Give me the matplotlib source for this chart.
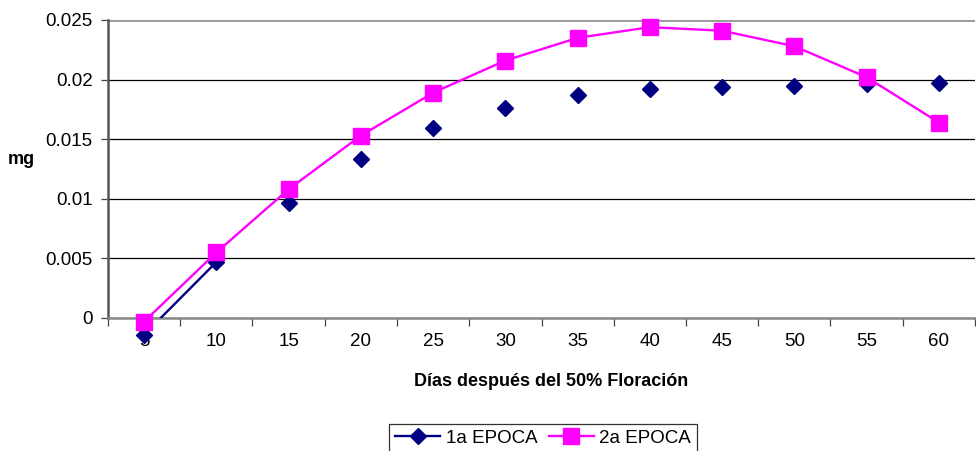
import matplotlib

matplotlib.use("Agg")
import matplotlib.pyplot as plt

plt.rcParams["font.family"] = ["Liberation Sans", "DejaVu Sans"]

# ---- data ------------------------------------------------------------------
dias = [5, 10, 15, 20, 25, 30, 35, 40, 45, 50, 55, 60]
epoca1 = [-0.0014, 0.0047, 0.00965, 0.0133, 0.0159, 0.0176, 0.0187,
          0.0192, 0.0194, 0.0195, 0.0196, 0.0197]
epoca2 = [-0.0003, 0.0055, 0.0108, 0.0153, 0.0189, 0.0216, 0.0235,
          0.0244, 0.0241, 0.0228, 0.0202, 0.0164]
yticks = [0, 0.005, 0.01, 0.015, 0.02, 0.025]
ytick_labels = ["0", "0.005", "0.01", "0.015", "0.02", "0.025"]

NAVY = "#000080"
MAGENTA = "#FF00FF"

fig = plt.figure(figsize=(9.76, 4.51), dpi=100)
ax = fig.add_axes([108 / 976, 1 - 318 / 451, 867 / 976, 298 / 451])

pos = list(range(len(dias)))

# 1a EPOCA: line only between the first two points, markers everywhere
ax.plot(pos[:2], epoca1[:2], color=NAVY, lw=1.7, zorder=3)
ax.plot(pos, epoca1, ls="none", marker="D", ms=8.2, color=NAVY,
        clip_on=False, zorder=4)
# 2a EPOCA
ax.plot(pos, epoca2, color=MAGENTA, lw=1.7, marker="s", ms=11,
        clip_on=False, zorder=5)

ax.set_xlim(-0.5, len(dias) - 0.5)
ax.set_ylim(0, 0.025)

ax.set_yticks(yticks)
ax.set_yticklabels(ytick_labels)
ax.yaxis.grid(True, color="black", lw=0.9)
ax.set_axisbelow(True)

ax.set_xticks(pos)
ax.set_xticklabels([str(d) for d in dias])
ax.set_xticks([p - 0.5 for p in pos] + [len(dias) - 0.5], minor=True)
ax.tick_params(axis="x", which="major", length=0, pad=11, labelsize=13.5)
ax.tick_params(axis="x", which="minor", length=6, width=0.9, color="#444",
               direction="out")
ax.tick_params(axis="y", length=5, width=0.9, color="#444", pad=6,
               labelsize=13.5)

for side in ("top", "right"):
    ax.spines[side].set_visible(False)
ax.spines["left"].set_color("#555")
ax.spines["left"].set_linewidth(1.8)
ax.spines["bottom"].set_color("#888")
ax.spines["bottom"].set_linewidth(1.8)
ax.axhline(0.025, color="#999", lw=2.0, zorder=1)

fig.text(21 / 976, 1 - 160 / 451, "mg", fontsize=13, fontweight="bold",
         ha="center", va="center")
fig.text(551 / 976, 1 - 381 / 451, "Días después del 50% Floración",
         fontsize=13, fontweight="bold", ha="center", va="center")

h1, = ax.plot([], [], color=NAVY, lw=1.7, marker="D", ms=8.2)
h2, = ax.plot([], [], color=MAGENTA, lw=1.7, marker="s", ms=11)
leg = fig.legend([h1, h2], ["1a EPOCA", "2a EPOCA"], loc="center",
                 bbox_to_anchor=(543 / 976, 1 - 438 / 451), ncol=2,
                 frameon=True, fancybox=False, fontsize=13.5,
                 handlelength=2.4, columnspacing=0.6, handletextpad=0.3,
                 borderpad=0.3)
leg.get_frame().set_edgecolor("black")
leg.get_frame().set_linewidth(0.9)

fig.savefig("out.png", dpi=100)
